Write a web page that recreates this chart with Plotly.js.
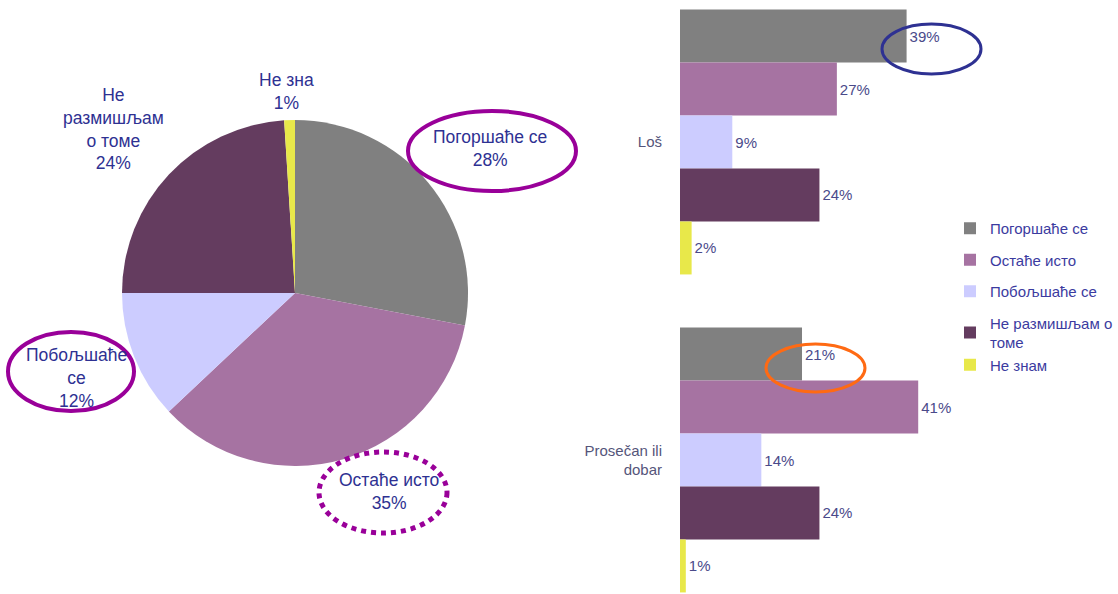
<!DOCTYPE html>
<html>
<head>
<meta charset="utf-8">
<script src="https://cdn.plot.ly/plotly-3.0.1.min.js"></script>
<style>html,body{margin:0;padding:0;background:#fff;} #chart{width:1118px;height:594px;}</style>
</head>
<body>
<div id="chart"></div>
<script>
// ---- Pie data ----
const pieLabels = ['Погоршаће се', 'Остаће исто', 'Побољшаће се', 'Не размишљам о томе', 'Не зна'];
const pieLabelText = ['Погоршаће се', 'Остаће исто', 'Побољшаће<br>се', 'Не<br>размишљам<br>о томе', 'Не зна'];
const pieValues = [28, 35, 12, 24, 1];
const colors = ['#808080', '#A673A2', '#CCCCFF', '#643C5F', '#E8E84A'];

// ---- Bar data ----
const barCategories = ['Loš', 'Prosečan ili dobar'];
const barTickText = ['Loš', 'Prosečan ili<br>dobar'];
const seriesNames = ['Погоршаће се', 'Остаће исто', 'Побољшаће се', 'Не размишљам о<br>томе', 'Не знам'];
const sWorse = [39, 21];
const sSame = [27, 41];
const sBetter = [9, 14];
const sNoThink = [24, 24];
const sDontKnow = [2, 1];
const seriesValues = [sWorse, sSame, sBetter, sNoThink, sDontKnow];
const legendGroups = ['g0', 'g1', 'g2', 'g3', 'g3'];

const W = 1118, H = 594;
const px = x => x / W;
const py = y => 1 - y / H;

const traces = [];
traces.push({
  type: 'pie',
  labels: pieLabels,
  values: pieValues,
  sort: false,
  direction: 'clockwise',
  rotation: 0,
  marker: {colors: colors, line: {width: 0}},
  textinfo: 'none',
  hoverinfo: 'label+percent',
  showlegend: false,
  domain: {x: [px(122), px(468)], y: [py(466), py(120)]}
});

seriesValues.forEach((vals, i) => {
  traces.push({
    type: 'bar',
    orientation: 'h',
    name: seriesNames[i],
    x: vals,
    y: barCategories,
    marker: {color: colors[i], line: {width: 0}},
    texttemplate: '%{x}%',
    textposition: 'outside',
    cliponaxis: false,
    textfont: {family: 'Liberation Sans, Arial, sans-serif', size: 15, color: '#4A4A8A'},
    legendgroup: legendGroups[i]
  });
});

// pie label annotations (text from data arrays)
const pieLabelPos = [[490, 148], [389, 491], [77, 378], [113, 129], [286, 91]];
const annotations = pieLabelText.map((t, i) => ({
  xref: 'paper', yref: 'paper',
  x: px(pieLabelPos[i][0]), y: py(pieLabelPos[i][1]),
  xanchor: 'center', yanchor: 'middle',
  text: t + '<br>' + pieValues[i] + '%',
  showarrow: false,
  align: 'center',
  font: {family: 'Liberation Sans, Arial, sans-serif', size: 17.5, color: '#2E3192'}
}));

function ell(x0, y0, x1, y1, color, width, dash) {
  return {type: 'circle', xref: 'paper', yref: 'paper',
    x0: px(x0), x1: px(x1), y0: py(y1), y1: py(y0),
    line: {color: color, width: width, dash: dash || 'solid'}};
}
const shapes = [
  ell(408, 111, 576, 191, '#990099', 4),
  ell(8, 332, 134, 411, '#990099', 4),
  ell(319, 452, 447, 533, '#990099', 5, 'dot'),
  ell(882, 24, 981, 74, '#2E3192', 3),
  ell(766, 344, 865, 392, '#FF6A13', 3)
];

const unit = 318; // px per category
const layout = {
  width: W, height: H,
  margin: {l: 0, r: 0, t: 0, b: 0},
  paper_bgcolor: '#fff', plot_bgcolor: '#fff',
  barmode: 'group',
  bargap: 0.167,
  bargroupgap: 0,
  font: {family: 'Liberation Sans, Arial, sans-serif'},
  xaxis: {domain: [px(680), px(680 + 5.81 * 50)], range: [0, 50], showgrid: false, zeroline: false,
    showticklabels: false, showline: false, ticks: ''},
  yaxis: {range: [1 + (594 - 460) / unit, -142 / unit], showgrid: false, zeroline: false, showline: false,
    tickmode: 'array', tickvals: barCategories, ticktext: barTickText,
    ticks: 'outside', ticklen: 14, tickcolor: 'rgba(0,0,0,0)',
    tickfont: {size: 15, color: '#55557A'}},
  legend: {x: px(950), y: py(212), xanchor: 'left', yanchor: 'top', traceorder: 'grouped',
    tracegroupgap: 9, bgcolor: 'rgba(0,0,0,0)',
    font: {size: 15, color: '#3B3BA0'}},
  annotations: annotations,
  shapes: shapes
};

Plotly.newPlot('chart', traces, layout, {displayModeBar: false, staticPlot: true});
</script>
</body>
</html>
